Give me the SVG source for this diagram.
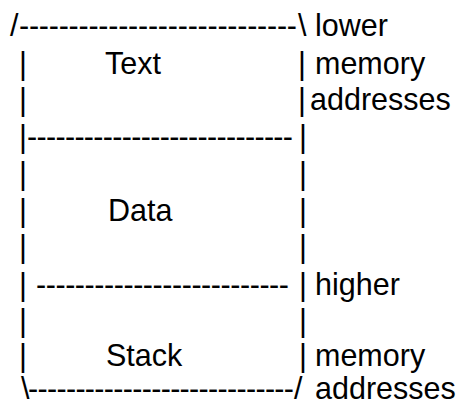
<svg xmlns="http://www.w3.org/2000/svg" width="467" height="406" viewBox="0 0 467 406">
<style>
text{font-family:"Liberation Sans",Arial,sans-serif;font-size:30.5px;fill:#000}
</style>
<rect width="467" height="406" fill="#fff"/>
<g id="top-border">
<text y="36"><tspan x="10">/</tspan><tspan x="19" textLength="278" lengthAdjust="spacing">----------------------------</tspan><tspan x="298">\</tspan><tspan x="315">lower</tspan></text>
</g>
<g id="text-segment">
<text y="74"><tspan x="19">|</tspan><tspan x="105">Text</tspan><tspan x="298">|</tspan><tspan x="315">memory</tspan></text>
<text y="110"><tspan x="19">|</tspan><tspan x="298">|</tspan><tspan x="310">addresses</tspan></text>
</g>
<g id="divider">
<text y="147"><tspan x="19">|</tspan><tspan x="27" textLength="266" lengthAdjust="spacing">----------------------------</tspan><tspan x="299">|</tspan></text>
</g>
<g id="data-segment">
<text y="184"><tspan x="19">|</tspan><tspan x="299">|</tspan></text>
<text y="221"><tspan x="19">|</tspan><tspan x="108">Data</tspan><tspan x="299">|</tspan></text>
<text y="257"><tspan x="19">|</tspan><tspan x="299">|</tspan></text>
<text y="295"><tspan x="19">|</tspan><tspan x="36" textLength="253" lengthAdjust="spacing">--------------------------</tspan><tspan x="299">|</tspan><tspan x="315">higher</tspan></text>
</g>
<g id="stack-segment">
<text y="331"><tspan x="19">|</tspan><tspan x="299">|</tspan></text>
<text y="366"><tspan x="19">|</tspan><tspan x="106">Stack</tspan><tspan x="299">|</tspan><tspan x="315">memory</tspan></text>
</g>
<g id="bottom-border">
<text y="399"><tspan x="21">\</tspan><tspan x="28" textLength="266" lengthAdjust="spacing">----------------------------</tspan><tspan x="294">/</tspan><tspan x="315">addresses</tspan></text>
</g>
</svg>
